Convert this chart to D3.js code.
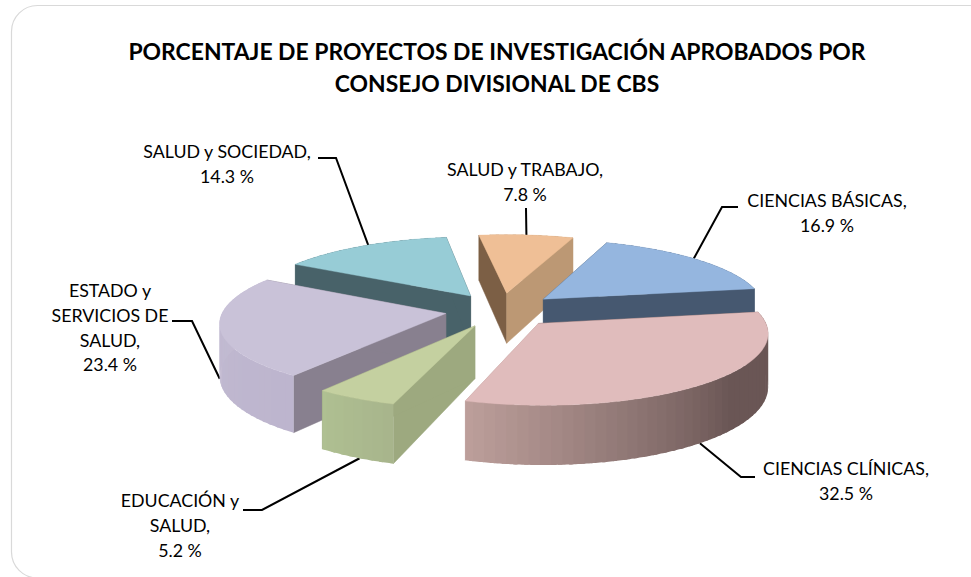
<!DOCTYPE html>
<html><head><meta charset="utf-8">
<script src="https://cdn.jsdelivr.net/npm/d3@7"></script>
<style>html,body{margin:0;padding:0;background:#fff;overflow:hidden}svg{display:block}text{font-family:Lato,"Open Sans",sans-serif;fill:#000}</style>
</head><body><svg id="c" width="971" height="577"></svg>
<script>
const titleLines = ["PORCENTAJE DE PROYECTOS DE INVESTIGACIÓN APROBADOS POR","CONSEJO DIVISIONAL DE CBS"];
const categories = ["CIENCIAS BÁSICAS","CIENCIAS CLÍNICAS","EDUCACIÓN y SALUD","ESTADO y SERVICIOS DE SALUD","SALUD y SOCIEDAD","SALUD y TRABAJO"];
const values = [16.9,32.5,5.2,23.4,14.3,7.8];
const labelLines = [["CIENCIAS BÁSICAS,"],["CIENCIAS CLÍNICAS,"],["EDUCACIÓN y","SALUD,"],["ESTADO y","SERVICIOS DE","SALUD,"],["SALUD y SOCIEDAD,"],["SALUD y TRABAJO,"]];
const topColors = ["#95B6DF","#E0BCBC","#C4D0A0","#C9C2D8","#97CCD6","#EFBF96"];
const startWall = ["#465870","#6E5857","#9DA97F","#88808F","#486269","#7C5F45"];
const endWall   = ["#465870","#BD9F9B","#9DA97F","#88808F","#486269","#BC9874"];
const outerEnd  = ["#465870","#BD9F9B","#AFC092","#C3BCD2","#486269","#BC9874"];
const outerBegin= ["#465870","#6A5655","#A8B58C","#BDB5CE","#486269","#BC9874"];
const shadeStartDeg = [21,130,199,218,302,354];

// label layout: centre x, first baseline, leader polyline start and elbow, anchor angle on slice
const labelX = [827,846,180,110,227,525];
const labelY = [207,475,507,297,158,176];
const lineH = 24.8;
const leaderFrom = [[738,207],[755,477],[243,510],[172,321],[318,158],[526,208]];
const leaderElbow = [[722,207],[741,477],[262,510],[192,321],[336,158],[526,209]];
const leaderDeg = [49,141,206,260,328,6];
const leaderOnBase = [false,true,true,true,false,false];
const drawOrder = [4,5,0,3,2,1];

const cx=501, cy=310, R=222.5, squash=0.31, D=1920, H=51.5, explode=56;
const rad = Math.PI/180;
const svg = d3.select("#c");

svg.append("rect").attr("x",11.5).attr("y",5.5).attr("width",985).attr("height",572.5).attr("rx",26)
  .attr("fill","#fff").attr("stroke","#D9D9D9").attr("stroke-width",1.2);

svg.append("g").selectAll("text").data(titleLines).join("text")
  .attr("x",497).attr("y",(d,i)=>60+i*32).attr("text-anchor","middle")
  .attr("font-size",22.9).attr("font-weight",700).text(d=>d);

const pie = d3.pie().sort(null).value(d=>d).startAngle(20*rad).endAngle(380*rad);
const arcs = pie(values);

function proj(a, mid, r, z){
  const gx = Math.sin(mid)*explode + Math.sin(a)*r;
  const gy = -Math.cos(mid)*explode - Math.cos(a)*r;
  const s = 1/(1-gy/D);
  return [cx+gx*s, cy+gy*squash*s+(z?H*s:0)];
}
const line = d3.line();

// leaders (behind the slices)
const lg = svg.append("g").attr("fill","none").attr("stroke","#000").attr("stroke-width",2);
arcs.forEach((d,i)=>{
  const mid=(d.startAngle+d.endAngle)/2;
  const p=proj(leaderDeg[i]*rad, mid, R, leaderOnBase[i]);
  lg.append("path").attr("d",line([leaderFrom[i],leaderElbow[i],p]));
});

// slices
drawOrder.forEach(i=>{
  const d=arcs[i], a0=d.startAngle, a1=d.endAngle, mid=(a0+a1)/2;
  const g=svg.append("g");
  const wall=(a,col)=>{
    const pts=[proj(a,mid,0,false),proj(a,mid,R,false),proj(a,mid,R,true),proj(a,mid,0,true)];
    g.append("path").attr("d",line(pts)+"Z").attr("fill",col).attr("stroke",col).attr("stroke-width",.5);
  };
  const outer=()=>{
    const shade=d3.scaleLinear().domain([shadeStartDeg[i]*rad,a1]).range([outerBegin[i],outerEnd[i]]).clamp(true);
    const step=2.5;
    d3.range(a0,a1,step*rad).forEach(s=>{
      const e=Math.min(a1,s+step*rad+1*rad);
      const n=d3.range(s,e,.5*rad).concat([e]);
      const top=n.map(a=>proj(a,mid,R,false)), bot=n.map(a=>proj(a,mid,R,true)).reverse();
      const col=shade(s+step*rad/2);
      g.append("path").attr("d",line(top.concat(bot))+"Z").attr("fill",col);
    });
  };
  const back=Math.cos(mid)>0;
  if(back) outer();
  wall(a0,startWall[i]); wall(a1,endWall[i]);
  if(!back) outer();
  const angles=d3.range(a0,a1,1*rad).concat([a1]);
  const face=[proj(a0,mid,0,false)].concat(angles.map(a=>proj(a,mid,R,false)));
  g.append("path").attr("d",line(face)+"Z").attr("fill",topColors[i]).attr("stroke",topColors[i]).attr("stroke-width",.4);
});

// labels
categories.forEach((c,i)=>{
  const lines=labelLines[i].concat([d3.format(".1f")(values[i])+" %"]);
  svg.append("g").selectAll("text").data(lines).join("text")
    .attr("x",labelX[i]).attr("y",(t,k)=>labelY[i]+k*lineH).attr("text-anchor","middle")
    .attr("font-size",17.8).text(t=>t);
});
</script></body></html>
